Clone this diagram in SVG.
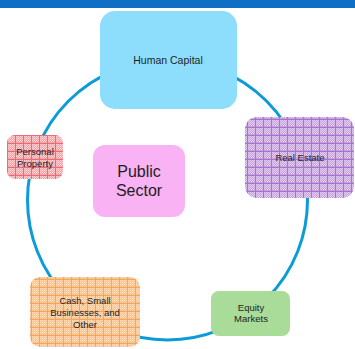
<svg xmlns="http://www.w3.org/2000/svg" width="355" height="349" viewBox="0 0 355 349">
<defs>
<pattern id="pPurple" width="8" height="8" patternUnits="userSpaceOnUse">
<rect width="8" height="8" fill="#c7a4df"/>
<path d="M0 0h1v1h-1zM2 0h1v1h-1zM4 0h1v1h-1zM6 0h1v1h-1zM1 1h1v1h-1zM3 1h1v1h-1zM5 1h1v1h-1zM7 1h1v1h-1zM0 2h1v1h-1zM2 2h1v1h-1zM4 2h1v1h-1zM6 2h1v1h-1zM1 3h1v1h-1zM3 3h1v1h-1zM5 3h1v1h-1zM7 3h1v1h-1zM0 4h1v1h-1zM2 4h1v1h-1zM4 4h1v1h-1zM6 4h1v1h-1zM1 5h1v1h-1zM3 5h1v1h-1zM5 5h1v1h-1zM7 5h1v1h-1z" fill="#e2cff0"/>
<rect x="0" y="7" width="8" height="1" fill="#a873d0"/>
<rect x="7" y="0" width="1" height="8" fill="#a873d0"/>
</pattern>
<pattern id="pRed" width="8" height="8" patternUnits="userSpaceOnUse">
<rect width="8" height="8" fill="#f5a6aa"/>
<path d="M0 0h1v1h-1zM2 0h1v1h-1zM4 0h1v1h-1zM6 0h1v1h-1zM1 1h1v1h-1zM3 1h1v1h-1zM5 1h1v1h-1zM7 1h1v1h-1zM0 2h1v1h-1zM2 2h1v1h-1zM4 2h1v1h-1zM6 2h1v1h-1zM1 3h1v1h-1zM3 3h1v1h-1zM5 3h1v1h-1zM7 3h1v1h-1zM0 4h1v1h-1zM2 4h1v1h-1zM4 4h1v1h-1zM6 4h1v1h-1zM1 5h1v1h-1zM3 5h1v1h-1zM5 5h1v1h-1zM7 5h1v1h-1z" fill="#fad0d2"/>
<rect x="0" y="7" width="8" height="1" fill="#ec6a72"/>
<rect x="7" y="0" width="1" height="8" fill="#ec6a72"/>
</pattern>
<pattern id="pOrange" width="8" height="8" patternUnits="userSpaceOnUse">
<rect width="8" height="8" fill="#f8c48f"/>
<path d="M0 0h1v1h-1zM2 0h1v1h-1zM4 0h1v1h-1zM6 0h1v1h-1zM1 1h1v1h-1zM3 1h1v1h-1zM5 1h1v1h-1zM7 1h1v1h-1zM0 2h1v1h-1zM2 2h1v1h-1zM4 2h1v1h-1zM6 2h1v1h-1zM1 3h1v1h-1zM3 3h1v1h-1zM5 3h1v1h-1zM7 3h1v1h-1zM0 4h1v1h-1zM2 4h1v1h-1zM4 4h1v1h-1zM6 4h1v1h-1zM1 5h1v1h-1zM3 5h1v1h-1zM5 5h1v1h-1zM7 5h1v1h-1z" fill="#fcdcbc"/>
<rect x="0" y="7" width="8" height="1" fill="#f3a65c"/>
<rect x="7" y="0" width="1" height="8" fill="#f3a65c"/>
</pattern>
</defs>
<style>
text{font-family:"Liberation Sans",Arial,sans-serif;fill:#1e1e1e;text-anchor:middle}
.s{font-size:9.5px}
.m{font-size:10.5px}
.l{font-size:16px}
.ring{fill:none;stroke:#0a9bd8;stroke-width:3}
</style>
<rect x="0" y="0" width="355" height="8" fill="#0e6fc4"/>
<g id="connectors">
<circle class="ring" cx="167.5" cy="200" r="140"/>
</g>
<g id="human-capital">
<rect x="100" y="11" width="137" height="98" rx="15" fill="#8ddefd"/>
<text class="m" x="168" y="64">Human Capital</text>
</g>
<g id="real-estate">
<rect x="245" y="117" width="109" height="81" rx="12" fill="url(#pPurple)"/>
<text class="s" x="300" y="161">Real Estate</text>
</g>
<g id="personal-property">
<rect x="7" y="135" width="56" height="44" rx="8" fill="url(#pRed)"/>
<text class="s" x="35" y="155">Personal</text>
<text class="s" x="35" y="166.5">Property</text>
</g>
<g id="public-sector">
<rect x="93" y="145" width="92" height="72" rx="12" fill="#f9b2f4"/>
<text class="l" x="139" y="177">Public</text>
<text class="l" x="139" y="196">Sector</text>
</g>
<g id="cash">
<rect x="30" y="277" width="110" height="70" rx="10" fill="url(#pOrange)"/>
<text class="s" x="85" y="304">Cash, Small</text>
<text class="s" x="85" y="316">Businesses, and</text>
<text class="s" x="85" y="328">Other</text>
</g>
<g id="equity-markets">
<rect x="211" y="291" width="79" height="45" rx="8" fill="#a8dc98"/>
<text class="s" x="251" y="310.5">Equity</text>
<text class="s" x="251" y="322">Markets</text>
</g>
</svg>
